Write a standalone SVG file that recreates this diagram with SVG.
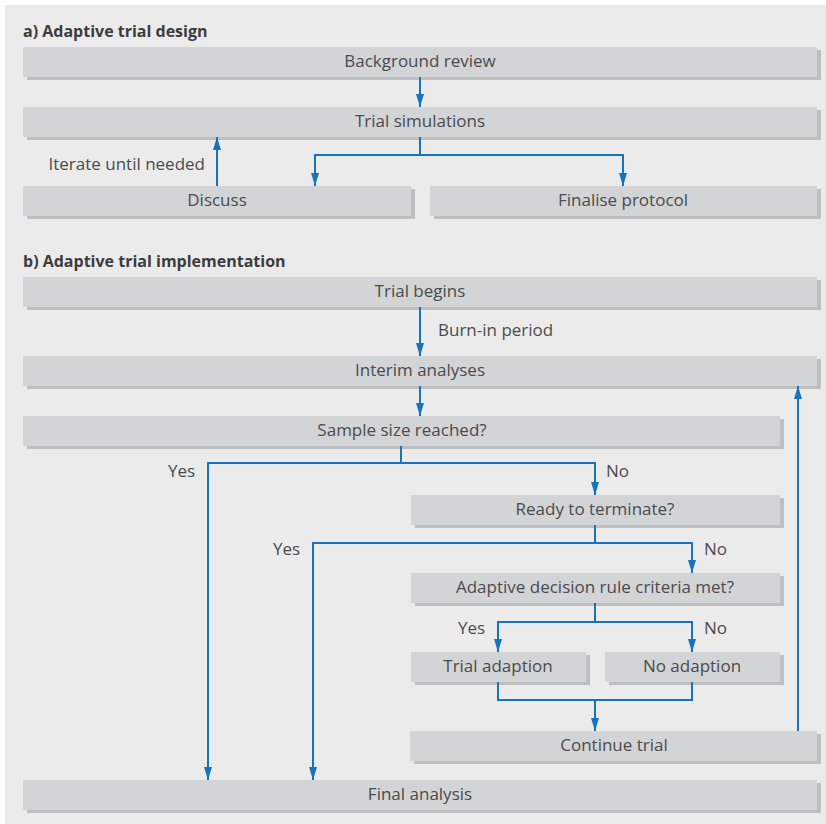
<svg xmlns="http://www.w3.org/2000/svg" width="826" height="824" viewBox="0 0 826 824">
<defs>
<style>
.sh{fill:#bebfc1}
.bx{fill:#d3d4d6}
.t{font-family:"Open Sans","Noto Sans",sans-serif;font-size:17px;fill:#4a4b4d;text-anchor:middle}
.l{font-family:"Open Sans","Noto Sans",sans-serif;font-size:17px;fill:#4a4b4d}
.h{font-family:"Open Sans","Noto Sans",sans-serif;font-size:16px;font-weight:bold;fill:#3c3c3e}
.c{fill:none;stroke:#1673be;stroke-width:2}
</style>
<marker id="ah" viewBox="0 0 13 8" refX="13" refY="4" markerWidth="13" markerHeight="8" markerUnits="userSpaceOnUse" orient="auto">
<path d="M0,0 L13,4 L0,8 z" fill="#1673be"/>
</marker>
</defs>
<rect x="0" y="0" width="826" height="824" fill="#ffffff"/>
<rect x="5" y="5" width="821" height="819" fill="#ebebeb"/>

<text class="h" x="23" y="37">a) Adaptive trial design</text>
<text class="h" x="23" y="267">b) Adaptive trial implementation</text>

<g id="background-review"><rect class="sh" x="27" y="50" width="794" height="30"/><rect class="bx" x="23" y="47" width="794" height="30"/><text class="t" x="420" y="67">Background review</text></g>
<g id="trial-simulations"><rect class="sh" x="27" y="110" width="794" height="30"/><rect class="bx" x="23" y="107" width="794" height="30"/><text class="t" x="420" y="127">Trial simulations</text></g>
<g id="discuss"><rect class="sh" x="27" y="189" width="388" height="30"/><rect class="bx" x="23" y="186" width="388" height="30"/><text class="t" x="217" y="206">Discuss</text></g>
<g id="finalise-protocol"><rect class="sh" x="434" y="189" width="387" height="30"/><rect class="bx" x="430" y="186" width="387" height="30"/><text class="t" x="623" y="206">Finalise protocol</text></g>

<g id="trial-begins"><rect class="sh" x="27" y="280" width="794" height="30"/><rect class="bx" x="23" y="277" width="794" height="30"/><text class="t" x="420" y="297">Trial begins</text></g>
<g id="interim-analyses"><rect class="sh" x="27" y="359" width="794" height="30"/><rect class="bx" x="23" y="356" width="794" height="30"/><text class="t" x="420" y="376">Interim analyses</text></g>
<g id="sample-size"><rect class="sh" x="27" y="419" width="757" height="30"/><rect class="bx" x="23" y="416" width="757" height="30"/><text class="t" x="402" y="436">Sample size reached?</text></g>
<g id="ready-terminate"><rect class="sh" x="415" y="498" width="369" height="30"/><rect class="bx" x="411" y="495" width="369" height="30"/><text class="t" x="595" y="515">Ready to terminate?</text></g>
<g id="adaptive-rule"><rect class="sh" x="415" y="576" width="369" height="30"/><rect class="bx" x="411" y="573" width="369" height="30"/><text class="t" x="595" y="593">Adaptive decision rule criteria met?</text></g>
<g id="trial-adaption"><rect class="sh" x="415" y="655" width="175" height="30"/><rect class="bx" x="411" y="652" width="175" height="30"/><text class="t" x="498" y="672">Trial adaption</text></g>
<g id="no-adaption"><rect class="sh" x="609" y="655" width="175" height="30"/><rect class="bx" x="605" y="652" width="175" height="30"/><text class="t" x="692" y="672">No adaption</text></g>
<g id="continue-trial"><rect class="sh" x="414" y="734" width="407" height="30"/><rect class="bx" x="410" y="731" width="407" height="30"/><text class="t" x="614" y="751">Continue trial</text></g>
<g id="final-analysis"><rect class="sh" x="27" y="783" width="794" height="30"/><rect class="bx" x="23" y="780" width="794" height="30"/><text class="t" x="420" y="800">Final analysis</text></g>

<g id="connectors">
<path class="c" d="M420,77 V107" marker-end="url(#ah)"/>
<path class="c" d="M420,137 V155 H315 V186" marker-end="url(#ah)"/>
<path class="c" d="M420,155 H623 V186" marker-end="url(#ah)"/>
<path class="c" d="M217,186 V137" marker-end="url(#ah)"/>
<path class="c" d="M420,307 V356" marker-end="url(#ah)"/>
<path class="c" d="M420,386 V416" marker-end="url(#ah)"/>
<path class="c" d="M401,446 V463 H208 V780" marker-end="url(#ah)"/>
<path class="c" d="M401,463 H595 V495" marker-end="url(#ah)"/>
<path class="c" d="M595,525 V543 H313 V780" marker-end="url(#ah)"/>
<path class="c" d="M595,543 H692 V573" marker-end="url(#ah)"/>
<path class="c" d="M595,603 V622 H498 V652" marker-end="url(#ah)"/>
<path class="c" d="M595,622 H692 V652" marker-end="url(#ah)"/>
<path class="c" d="M498,682 V700 H692 V682"/>
<path class="c" d="M595,700 V731" marker-end="url(#ah)"/>
<path class="c" d="M798,731 V386" marker-end="url(#ah)"/>
</g>

<g id="labels">
<text class="l" x="205" y="170" text-anchor="end">Iterate until needed</text>
<text class="l" x="438" y="336">Burn-in period</text>
<text class="l" x="168" y="477">Yes</text>
<text class="l" x="606" y="477">No</text>
<text class="l" x="273" y="555">Yes</text>
<text class="l" x="704" y="555">No</text>
<text class="l" x="458" y="634">Yes</text>
<text class="l" x="704" y="634">No</text>
</g>
</svg>
